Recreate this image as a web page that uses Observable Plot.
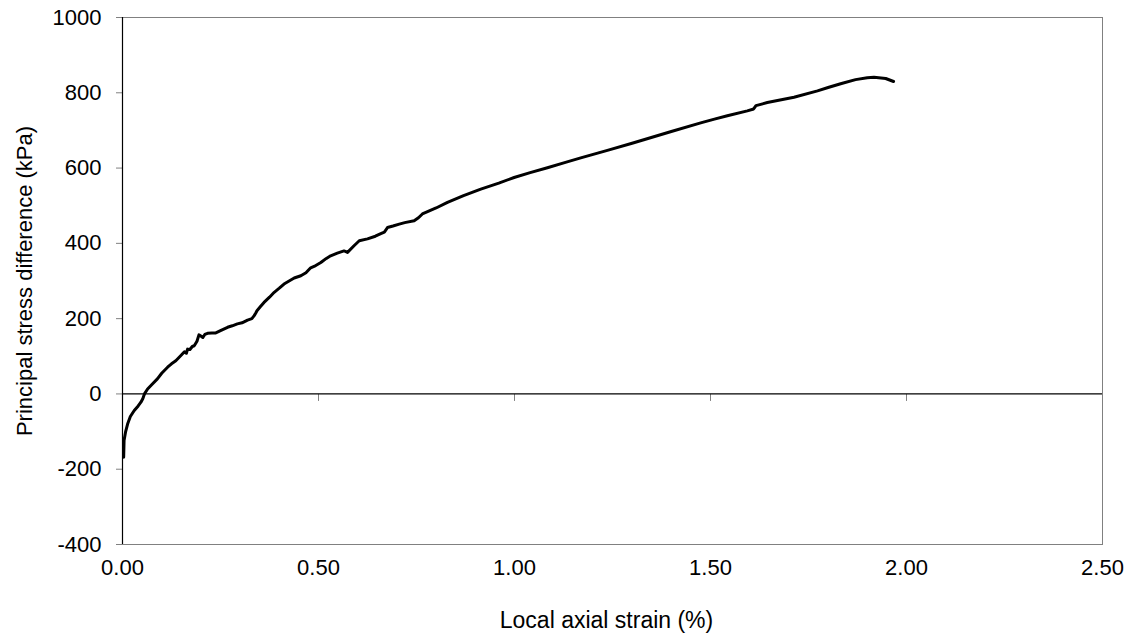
<!DOCTYPE html>
<html>
<head>
<meta charset="utf-8">
<script src="https://cdn.jsdelivr.net/npm/d3@7"></script>
<script src="https://cdn.jsdelivr.net/npm/@observablehq/plot@0.6"></script>
<style>
  html, body { margin: 0; padding: 0; background: #fff; }
  #chart svg { display: block; }
</style>
</head>
<body>
<div id="chart"></div>
<script>
const strain = [0.003,0.004,0.008,0.013,0.020,0.030,0.040,0.047,0.052,0.056,0.064,0.075,0.089,0.100,0.115,0.125,0.136,0.149,0.158,0.163,0.166,0.172,0.178,0.183,0.190,0.195,0.200,0.205,0.210,0.217,0.228,0.238,0.250,0.268,0.280,0.293,0.305,0.319,0.330,0.336,0.340,0.343,0.352,0.361,0.375,0.387,0.400,0.412,0.425,0.438,0.455,0.468,0.480,0.493,0.506,0.520,0.531,0.548,0.565,0.570,0.574,0.590,0.604,0.625,0.645,0.659,0.668,0.676,0.690,0.706,0.720,0.744,0.755,0.765,0.800,0.829,0.870,0.914,0.960,0.999,1.040,1.084,1.130,1.169,1.237,1.300,1.400,1.475,1.510,1.543,1.594,1.610,1.616,1.645,1.713,1.773,1.800,1.832,1.870,1.900,1.917,1.947,1.967];
const stress = [-168,-124,-100,-80,-60,-44,-32,-22,-12,0,13,25,40,55,71,80,88,102,112,108,119,118,126,128,140,157,154,150,158,161,162,162,168,177,181,186,189,196,200,208,215,221,232,243,257,270,281,292,300,308,314,322,335,341,349,360,367,374,380,378,376,393,407,412,419,426,430,442,446,451,455,460,468,478,494,509,527,544,560,575,588,601,615,627,647,666,697,720,730,739,752,757,766,774,788,805,814,824,835,840,841,838,830];
const xTicks = [0, 0.5, 1.0, 1.5, 2.0, 2.5];
const yTicks = [-400, -200, 0, 200, 400, 600, 800, 1000];
const xTitle = "Local axial strain (%)";
const yTitle = "Principal stress difference (kPa)";

const data = strain.map((s, i) => ({strain: s, stress: stress[i]}));
const gray = "#808080";
const tickDown = {draw(ctx) { ctx.moveTo(0, 0); ctx.lineTo(0, 7); }};

const chart = Plot.plot({
  width: 1132,
  height: 643,
  marginLeft: 122,
  marginRight: 30,
  marginTop: 17,
  marginBottom: 99,
  style: {fontFamily: "'Liberation Sans', Arial, sans-serif", fontSize: "22px", color: "#000", background: "#fff"},
  x: {domain: [0, 2.5], ticks: xTicks},
  y: {domain: [-400, 1000], ticks: yTicks},
  marks: [
    Plot.frame({stroke: gray, strokeWidth: 1}),
    Plot.axisY(yTicks, {anchor: "left", tickSize: 6, tickPadding: 15, stroke: gray, fill: "#000", tickFormat: d => String(d), label: null, fontSize: 22}),
    Plot.axisX({ticks: [], label: null, tickSize: 0}),
    Plot.text(xTicks, {x: d => d, frameAnchor: "bottom", dy: 30, text: d => d.toFixed(2), fill: "#000", fontSize: 22}),
    Plot.dot(xTicks, {x: d => d, y: 0, symbol: tickDown, stroke: gray, strokeWidth: 1, fill: "none", r: 7}),
    Plot.ruleY([0], {stroke: "#000", strokeWidth: 1.2}),
    Plot.ruleX([0], {stroke: "#000", strokeWidth: 1.2}),
    Plot.line(data, {x: "strain", y: "stress", stroke: "#000", strokeWidth: 3, strokeLinejoin: "round", strokeLinecap: "round"}),
    Plot.text([xTitle], {frameAnchor: "bottom", dx: -6, dy: 83, text: d => d, fill: "#000", fontSize: 23, textAnchor: "middle"}),
    Plot.text([yTitle], {frameAnchor: "left", dx: -98, rotate: -90, text: d => d, fill: "#000", fontSize: 22, textAnchor: "middle"})
  ]
});
document.getElementById("chart").appendChild(chart);
</script>
</body>
</html>
